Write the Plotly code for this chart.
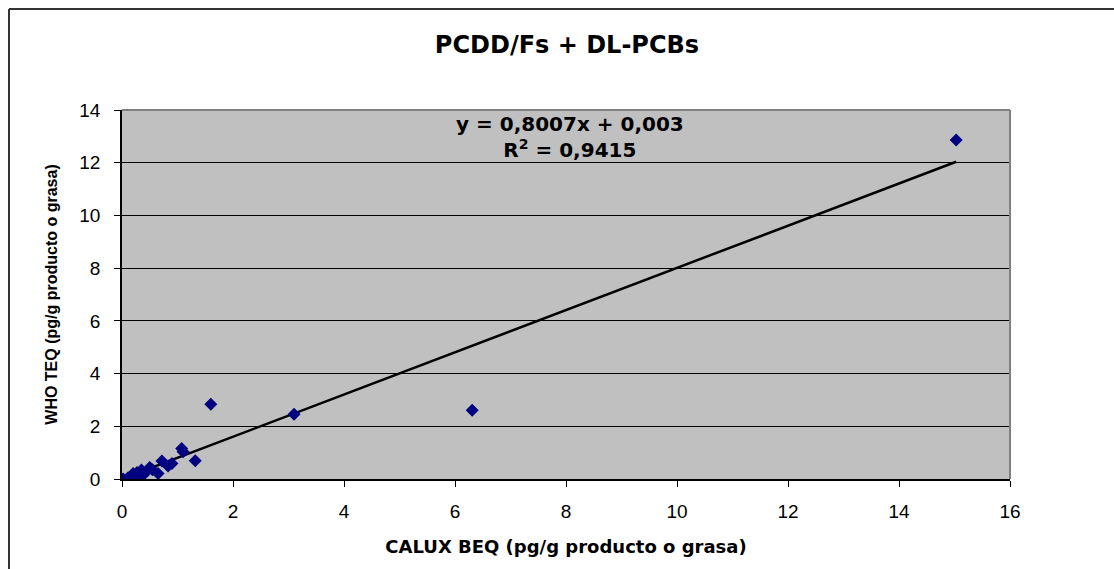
import plotly.graph_objects as go

calux_beq = [15.03, 6.31, 3.10, 1.60, 1.075, 1.10, 1.32, 0.90, 0.83, 0.72, 0.50,
             0.65, 0.35, 0.38, 0.20, 0.11, 0.02, 0.13, 0.24, 0.32, 0.27, 0.55, 0.45]
who_teq = [12.86, 2.61, 2.46, 2.84, 1.16, 1.03, 0.69, 0.59, 0.49, 0.68, 0.44,
           0.21, 0.34, 0.15, 0.21, 0.05, 0.0, 0.0, 0.07, 0.10, 0.25, 0.35, 0.30]
slope = 0.8007
intercept = 0.003
r2 = 0.9415
x_ticks = [0, 2, 4, 6, 8, 10, 12, 14, 16]
y_ticks = [0, 2, 4, 6, 8, 10, 12, 14]

xmin, xmax = min(calux_beq), max(calux_beq)
trend_x = [xmin, xmax]
trend_y = [slope * v + intercept for v in trend_x]

fig = go.Figure()
fig.add_trace(go.Scatter(x=trend_x, y=trend_y, mode="lines",
                         line=dict(color="black", width=2.5), showlegend=False))
fig.add_trace(go.Scatter(x=calux_beq, y=who_teq, mode="markers",
                         marker=dict(symbol="diamond", color="#000080", size=10,
                                     line=dict(width=0)), showlegend=False))

L, R, T, B = 122, 1010, 110, 479
W, H = 1114, 569
pw, ph = R - L, B - T

def px(x):
    return (x - L) / pw

def py(y):
    return (B - y) / ph

BOLD = "DejaVu Sans, sans-serif"
REG = "Liberation Sans, Arial, sans-serif"

fig.update_layout(
    width=W, height=H,
    margin=dict(l=L, r=W - R, t=T, b=H - B),
    paper_bgcolor="white",
    plot_bgcolor="#C0C0C0",
    font=dict(family=REG, color="black", size=19),
    title=dict(text="<b>PCDD/Fs + DL-PCBs</b>", xref="container", x=567 / W,
               xanchor="center", yref="container", y=1 - 45 / H, yanchor="middle",
               font=dict(size=24, family=BOLD)),
    xaxis=dict(range=[0, 16], tickvals=x_ticks, showgrid=False, zeroline=False,
               showline=True, linecolor="black", linewidth=1.5,
               ticks="outside", ticklen=6, tickcolor="black",
               ticklabelstandoff=8,
               title=dict(text="<b>CALUX BEQ (pg/g producto o grasa)</b>",
                          font=dict(size=18, family=BOLD), standoff=20),
               tickfont=dict(size=19, family=REG)),
    yaxis=dict(range=[0, 14], tickvals=y_ticks, showgrid=True, gridcolor="black",
               gridwidth=1, zeroline=False, showline=True, linecolor="black",
               linewidth=1.5, ticks="outside", ticklen=6, tickcolor="black",
               ticklabelstandoff=10,
               title=dict(text="<b>WHO TEQ (pg/g producto o grasa)</b>",
                          font=dict(size=16, family=REG), standoff=18),
               tickfont=dict(size=19, family=REG)),
    annotations=[dict(text="<b>y = 0,8007x + 0,003<br>R<sup>2</sup> = 0,9415</b>",
                      xref="paper", yref="paper", x=px(570), y=py(137),
                      xanchor="center", yanchor="middle", showarrow=False,
                      font=dict(size=20, family=BOLD), align="center")],
    shapes=[
        dict(type="line", xref="paper", yref="paper", x0=1, x1=1, y0=0, y1=1,
             line=dict(color="#808080", width=2)),
        dict(type="line", xref="paper", yref="paper", x0=0, x1=1, y0=1, y1=1,
             line=dict(color="#808080", width=2)),
        dict(type="line", xref="paper", yref="paper", x0=px(9), x1=px(1114),
             y0=py(9), y1=py(9), line=dict(color="#333333", width=2)),
        dict(type="line", xref="paper", yref="paper", x0=px(9), x1=px(9),
             y0=py(9), y1=py(569), line=dict(color="#333333", width=2)),
    ],
)

fig.write_html("out.html")
